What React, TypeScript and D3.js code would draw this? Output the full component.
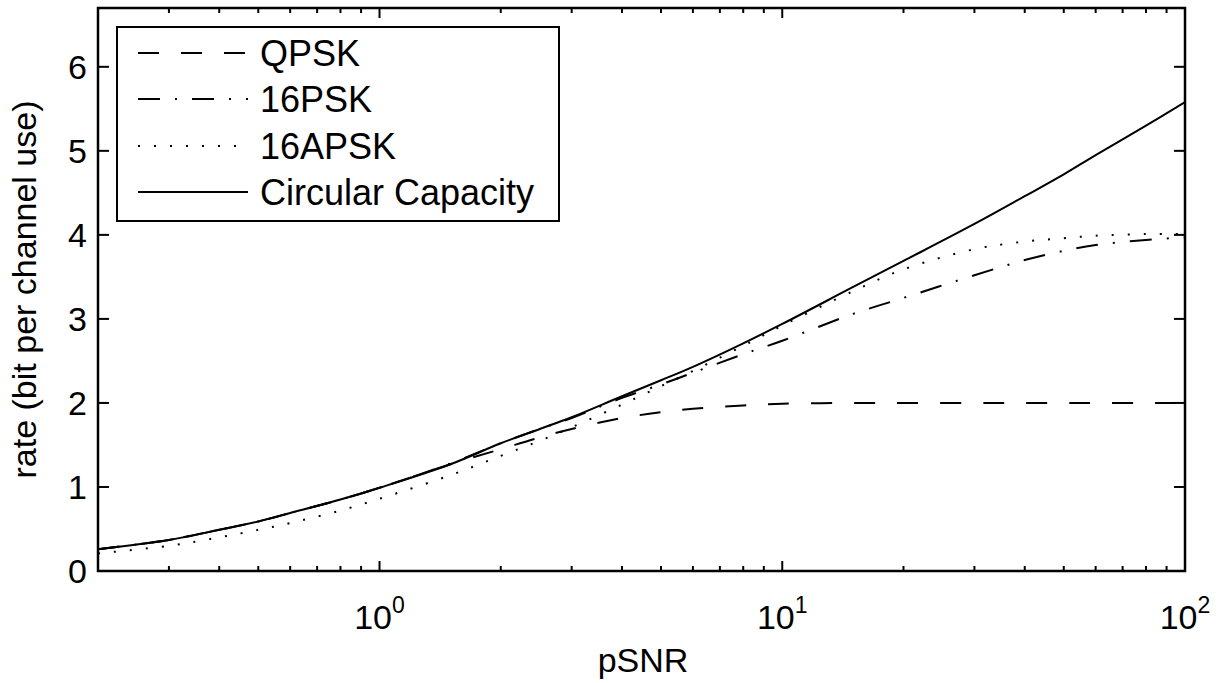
import React from "react";
import * as d3 from "d3";

const snr = [0.2, 0.3, 0.4, 0.5, 0.6, 0.8, 1, 1.5, 2, 2.5, 3, 4, 5, 6, 8, 10, 15, 20, 30, 40, 50, 60, 80, 100];
const qpsk = [0.26, 0.37, 0.49, 0.59, 0.69, 0.85, 0.99, 1.27, 1.45, 1.59, 1.69, 1.82, 1.89, 1.93, 1.97, 1.99, 2.0, 2.0, 2.0, 2.0, 2.0, 2.0, 2.0, 2.0];
const psk16 = [0.26, 0.37, 0.49, 0.59, 0.69, 0.85, 0.99, 1.28, 1.52, 1.69, 1.82, 2.06, 2.22, 2.36, 2.58, 2.74, 3.06, 3.25, 3.52, 3.7, 3.81, 3.88, 3.94, 3.97];
const apsk16 = [0.21, 0.3, 0.4, 0.49, 0.57, 0.72, 0.86, 1.14, 1.37, 1.55, 1.71, 1.98, 2.2, 2.38, 2.68, 2.92, 3.33, 3.59, 3.83, 3.92, 3.96, 3.99, 4.01, 4.01];
const circular = [0.26, 0.37, 0.49, 0.59, 0.69, 0.85, 0.99, 1.27, 1.52, 1.69, 1.83, 2.08, 2.27, 2.43, 2.71, 2.94, 3.38, 3.69, 4.13, 4.46, 4.72, 4.95, 5.3, 5.58];

const seriesNames = ["QPSK", "16PSK", "16APSK", "Circular Capacity"];
const seriesValues = [qpsk, psk16, apsk16, circular];
const seriesDash = ["21 22", "22 15 2 15", "2 14", "none"];

const yTicks = [0, 1, 2, 3, 4, 5, 6];
const xMajor = [1, 10, 100];
const xMajorExp = ["0", "1", "2"];
const xMinor = [0.3, 0.4, 0.5, 0.6, 0.7, 0.8, 0.9, 2, 3, 4, 5, 6, 7, 8, 9, 20, 30, 40, 50, 60, 70, 80, 90];

const FONT = "'Liberation Sans', Arial, Helvetica, sans-serif";

export default function App() {
  const W = 1221, H = 683;
  const L = 98, R = 1185, T = 8, B = 571;
  const x = d3.scaleLog().domain([0.2, 100]).range([L, R]);
  const y = d3.scaleLinear().domain([0, 6.7]).range([B, T]);

  const line = d3
    .line<number>()
    .x((_, i) => x(snr[i]))
    .y((d) => y(d))
    .curve(d3.curveCatmullRom.alpha(0.5));

  const legX = 117, legY = 27, legW = 442, legH = 194;
  const rowY = [53, 99, 146, 192];

  return (
    <svg width={W} height={H} style={{ position: "absolute", left: 0, top: 0, background: "#fff" }}>
      <rect x={0} y={0} width={W} height={H} fill="#fff" />
      <defs>
        <clipPath id="plotclip">
          <rect x={L} y={T} width={R - L} height={B - T} />
        </clipPath>
      </defs>
      <g clipPath="url(#plotclip)">
        {seriesValues.map((vals, i) => (
          <path
            key={i}
            d={line(vals) || ""}
            fill="none"
            stroke="#000"
            strokeWidth={2}
            strokeDasharray={seriesDash[i] === "none" ? undefined : seriesDash[i]}
          />
        ))}
      </g>
      <g stroke="#000" strokeWidth={2}>
        {yTicks.map((t) => (
          <g key={"y" + t}>
            <line x1={L} x2={L + 11} y1={y(t)} y2={y(t)} />
            <line x1={R} x2={R - 11} y1={y(t)} y2={y(t)} />
          </g>
        ))}
        {xMajor.map((t) => (
          <g key={"xm" + t}>
            <line x1={x(t)} x2={x(t)} y1={B} y2={B - 10} />
            <line x1={x(t)} x2={x(t)} y1={T} y2={T + 10} />
          </g>
        ))}
        {xMinor.map((t) => (
          <g key={"xn" + t}>
            <line x1={x(t)} x2={x(t)} y1={B} y2={B - 5} />
            <line x1={x(t)} x2={x(t)} y1={T} y2={T + 5} />
          </g>
        ))}
      </g>
      <rect x={L} y={T} width={R - L} height={B - T} fill="none" stroke="#000" strokeWidth={2.5} />
      <g fontFamily={FONT} fontSize={34} fill="#000">
        {yTicks.map((t) => (
          <text key={"yl" + t} x={87} y={y(t) + 12} textAnchor="end">
            {t}
          </text>
        ))}
        {xMajor.map((t, i) => (
          <text key={"xl" + t} x={x(t)} y={629} textAnchor="middle">
            10
            <tspan fontSize={23} dy={-16}>
              {xMajorExp[i]}
            </tspan>
          </text>
        ))}
      </g>
      <text x={643} y={672} textAnchor="middle" fontFamily={FONT} fontSize={34} fill="#000">
        pSNR
      </text>
      <text
        transform={`translate(36, ${(T + B) / 2}) rotate(-90)`}
        textAnchor="middle"
        fontFamily={FONT}
        fontSize={34}
        fill="#000"
      >
        rate (bit per channel use)
      </text>
      <rect x={legX} y={legY} width={legW} height={legH} fill="#fff" stroke="#000" strokeWidth={2} />
      {seriesNames.map((name, i) => (
        <g key={name}>
          <line
            x1={138}
            x2={248}
            y1={rowY[i]}
            y2={rowY[i]}
            stroke="#000"
            strokeWidth={2}
            strokeDasharray={seriesDash[i] === "none" ? undefined : seriesDash[i]}
          />
          <text x={260} y={rowY[i] + 13} fontFamily={FONT} fontSize={36} fill="#000">
            {name}
          </text>
        </g>
      ))}
    </svg>
  );
}
